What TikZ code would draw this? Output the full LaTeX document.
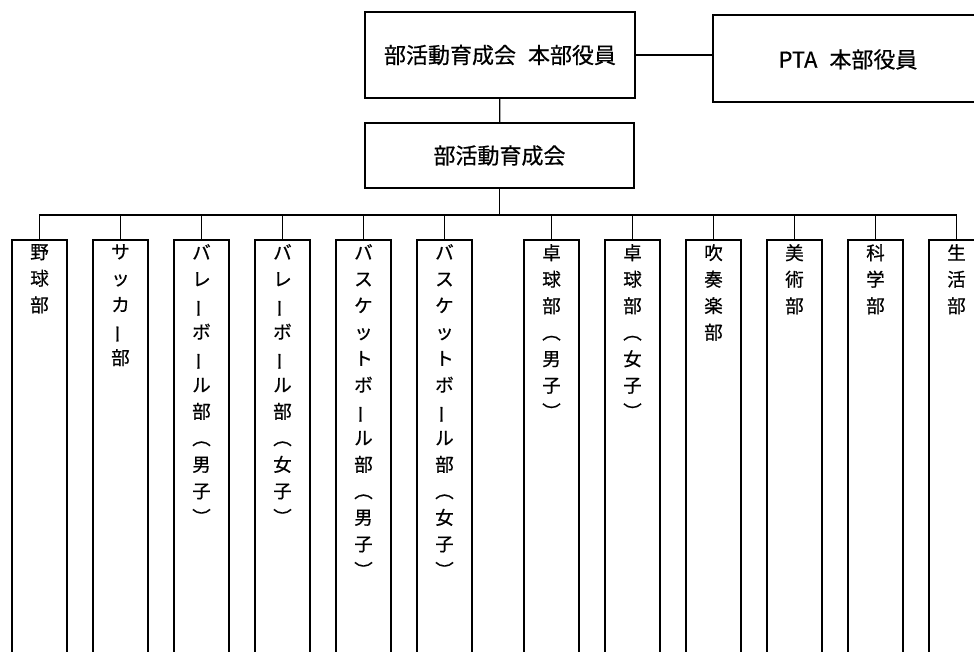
\documentclass[tikz,border=0pt]{standalone}
\usepackage{fontspec}
\newfontfamily\jpfont[FakeBold=0.6]{Noto Sans CJK JP}
\newcommand{\chou}{\rotatebox[origin=c]{90}{ー}}

\tikzset{
  office/.style={draw, line width=1.5pt, inner sep=0pt, font=\jpfont\fontsize{22}{26}\selectfont},
  club/.style={draw, line width=1.5pt, anchor=north, minimum width=55pt, minimum height=430pt, inner sep=0pt},
  clubname/.style={anchor=north, inner sep=0pt, yshift=-5pt, align=center, font=\jpfont\fontsize{18.5}{26.5}\selectfont},
  link/.style={line width=1.3pt},
}

\begin{document}
\begin{tikzpicture}[x=1pt, y=-1pt]
\useasboundingbox (0,0) rectangle (974,651);
\clip (0,0) rectangle (974,651);

\node[office, minimum width=270pt, minimum height=86pt] (hq) at (500, 55) {部活動育成会\hspace{12pt}本部役員};
\node[office, minimum width=270pt, minimum height=87pt, text depth=-4pt] (pta) at (848, 58.5) {PTA\hspace{12pt}本部役員};
\node[office, minimum width=269pt, minimum height=65pt] (kai) at (499.5, 155.5) {部活動育成会};

\draw[link] (hq.east) -- (hq.east -| pta.west);
\draw[link] (hq) -- (kai);
\coordinate (bus) at (499.5, 215);
\draw[link] (kai) -- (bus);

\node[club, label={[clubname, name=yakyu-t]north:{野\\球\\部}}] (yakyu) at (39.5, 239) {};
\node[club, label={[clubname, name=soccer-t]north:{サ\\ッ\\カ\\\chou\\部}}] (soccer) at (120.5, 239) {};
\node[club, label={[clubname, name=volleym-t]north:{バ\\レ\\\chou\\ボ\\\chou\\ル\\部\\︵\\男\\子\\︶}}] (volleym) at (201.5, 239) {};
\node[club, label={[clubname, name=volleyw-t]north:{バ\\レ\\\chou\\ボ\\\chou\\ル\\部\\︵\\女\\子\\︶}}] (volleyw) at (282.5, 239) {};
\node[club, label={[clubname, name=basketm-t]north:{バ\\ス\\ケ\\ッ\\ト\\ボ\\\chou\\ル\\部\\︵\\男\\子\\︶}}] (basketm) at (363.5, 239) {};
\node[club, label={[clubname, name=basketw-t]north:{バ\\ス\\ケ\\ッ\\ト\\ボ\\\chou\\ル\\部\\︵\\女\\子\\︶}}] (basketw) at (444.5, 239) {};
\node[club, label={[clubname, name=takkyum-t]north:{卓\\球\\部\\︵\\男\\子\\︶}}] (takkyum) at (551.5, 239) {};
\node[club, label={[clubname, name=takkyuw-t]north:{卓\\球\\部\\︵\\女\\子\\︶}}] (takkyuw) at (632.5, 239) {};
\node[club, label={[clubname, name=suisou-t]north:{吹\\奏\\楽\\部}}] (suisou) at (713.5, 239) {};
\node[club, label={[clubname, name=bijutsu-t]north:{美\\術\\部}}] (bijutsu) at (794.5, 239) {};
\node[club, label={[clubname, name=kagaku-t]north:{科\\学\\部}}] (kagaku) at (875.5, 239) {};
\node[club, label={[clubname, name=seikatsu-t]north:{生\\活\\部}}] (seikatsu) at (956.5, 239) {};

%
\draw[link] (yakyu) |- (bus) -| (seikatsu);
\draw[link] (soccer) -- (soccer |- bus);
\draw[link] (volleym) -- (volleym |- bus);
\draw[link] (volleyw) -- (volleyw |- bus);
\draw[link] (basketm) -- (basketm |- bus);
\draw[link] (basketw) -- (basketw |- bus);
\draw[link] (takkyum) -- (takkyum |- bus);
\draw[link] (takkyuw) -- (takkyuw |- bus);
\draw[link] (suisou) -- (suisou |- bus);
\draw[link] (bijutsu) -- (bijutsu |- bus);
\draw[link] (kagaku) -- (kagaku |- bus);

\end{tikzpicture}
\end{document}
